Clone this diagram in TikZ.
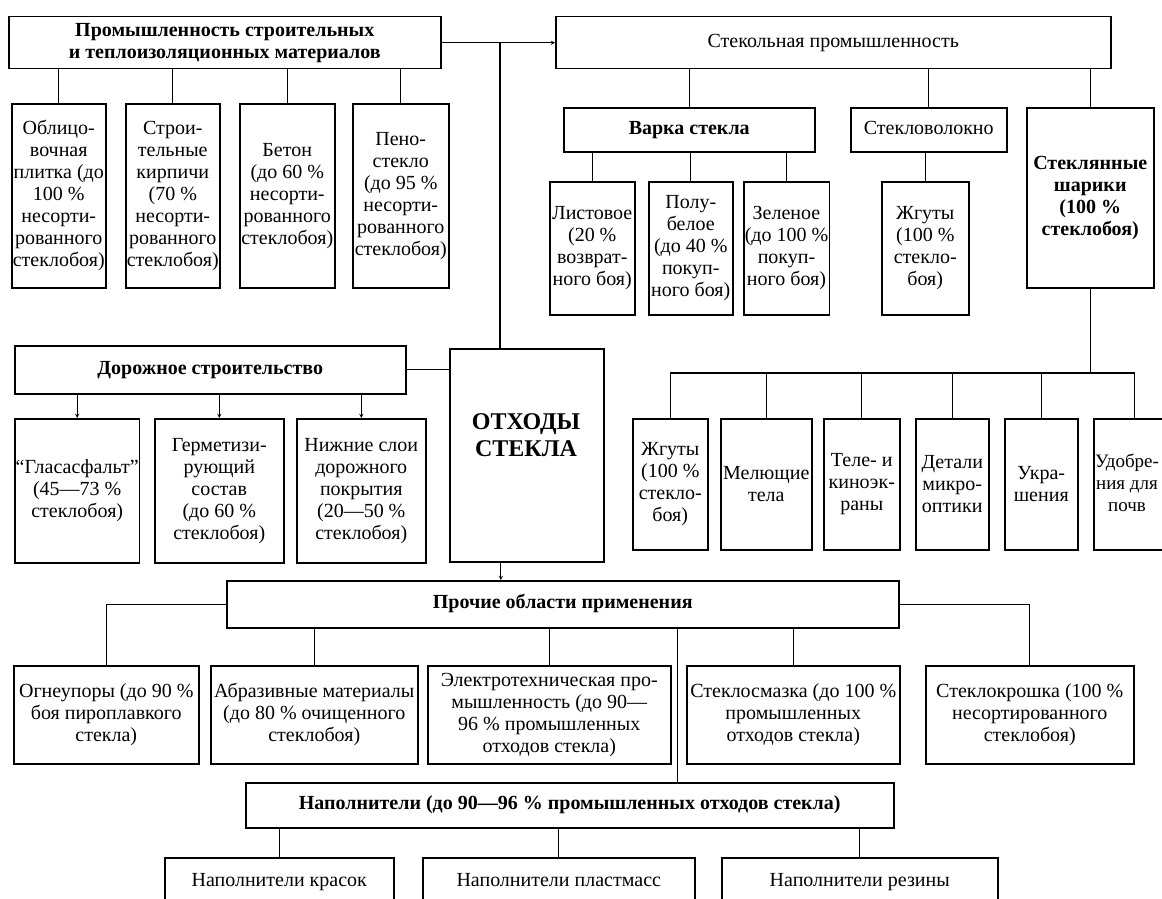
\documentclass[tikz,border=0pt]{standalone}
\usepackage{fontspec}
\setmainfont{Liberation Serif}
\usepackage{tikz}
\usetikzlibrary{arrows}
\newcommand{\boxfont}{\fontsize{20}{22}\selectfont}
\tikzstyle{box} = [rectangle, draw=black, line width=1.5pt, anchor=north west, align=center, inner sep=1pt, font=\boxfont]
\tikzstyle{head} = [box, font=\boxfont\bfseries]
\tikzstyle{link} = [line width=1.3pt]
\tikzstyle{arrow} = [line width=0.9pt,->,>=stealth]

\begin{document}
\begin{tikzpicture}[x=1pt, y=-1pt]
\useasboundingbox (0,0) rectangle (1162,899);
\fill[white] (0,0) rectangle (1162,899);
\clip (0,0) rectangle (1162,899);

% Building and insulation materials
\node (stroi) [head, minimum width=432, minimum height=52] at (8,16) {Промышленность строительных\\и теплоизоляционных материалов};
\node (oblic) [box, minimum width=94, minimum height=184] at (11,103) {Облицо-\\вочная\\плитка (до\\100~\%\\несорти-\\рованного\\стеклобоя)};
\node (kirp) [box, minimum width=94, minimum height=184] at (125,103) {Строи-\\тельные\\кирпичи\\(70~\%\\несорти-\\рованного\\стеклобоя)};
\node (beton) [box, minimum width=95, minimum height=184] at (239,103) {Бетон\\(до 60~\%\\несорти-\\рованного\\стеклобоя)};
\node (peno) [box, minimum width=96, minimum height=184] at (352,103) {Пено-\\стекло\\(до 95~\%\\несорти-\\рованного\\стеклобоя)};
\foreach \n in {oblic,kirp,beton,peno}
  \draw[link] (\n.north) -- (\n.north |- stroi.south);

% Glass industry
\node (steklo) [box, minimum width=555, minimum height=52] at (555,16) {\strut Стекольная промышленность};
\draw[arrow] (stroi.east) -- (steklo.west);
\node (varka) [head, minimum width=251, minimum height=44] at (563,107) {\strut Варка стекла};
\node (volok) [box, minimum width=156, minimum height=44] at (850,107) {\strut Стекловолокно};
\node (shariki) [head, minimum width=127, minimum height=180] at (1026,107) {Стеклянные\\шарики\\(100~\%\\стеклобоя)};
\foreach \n in {varka,volok,shariki}
  \draw[link] (\n.north) -- (\n.north |- steklo.south);

\node (list) [box, minimum width=85, minimum height=133] at (549,181) {Листовое\\(20~\%\\возврат-\\ного боя)};
\node (polu) [box, minimum width=84, minimum height=133] at (648,181) {Полу-\\белое\\(до 40~\%\\покуп-\\ного боя)};
\node (zel) [box, minimum width=85, minimum height=133] at (743,181) {Зеленое\\(до 100~\%\\покуп-\\ного боя)};
\foreach \n in {list,polu,zel}
  \draw[link] (\n.north) -- (\n.north |- varka.south);
\node (zhgut) [box, minimum width=87, minimum height=133] at (881,181) {Жгуты\\(100~\%\\стекло-\\боя)};
\draw[link] (zhgut.north) -- (zhgut.north |- volok.south);

% Glass waste
\node (otxody) [box, minimum width=154, minimum height=213] at (449,348) {};
\node (otxodytxt) [font=\fontsize{24}{27}\selectfont\bfseries, align=center] at (526,435) {ОТХОДЫ\\СТЕКЛА};
\coordinate (junc) at (500,42);
\draw[link] (junc) -- (junc |- otxody.north);

% Road construction
\node (dor) [head, minimum width=391, minimum height=48] at (14,345) {\strut Дорожное строительство};
\draw[link] (dor.east) -- (otxody.west |- dor.east);
\node (glas) [box, minimum width=124, minimum height=144] at (14,418) {“Гласасфальт”\\(45—73~\%\\стеклобоя)};
\node (germ) [box, minimum width=129, minimum height=144] at (154,418) {Герметизи-\\рующий\\состав\\(до 60~\%\\стеклобоя)};
\node (niz) [box, minimum width=129, minimum height=144] at (296,418) {Нижние слои\\дорожного\\покрытия\\(20—50~\%\\стеклобоя)};
\foreach \n in {glas,germ,niz}
  \draw[arrow] (\n.north |- dor.south) -- (\n.north);

% Glass beads
\coordinate (sharbus) at (1090,373);
\draw[link] (shariki.south) -- (shariki.south |- sharbus);
\node (zhgut2) [box, minimum width=75, minimum height=131] at (632,418) {Жгуты\\(100~\%\\стекло-\\боя)};
\node (mel) [box, minimum width=91, minimum height=131] at (720,418) {Мелющие\\тела};
\node (tele) [box, minimum width=76, minimum height=131] at (823,418) {Теле- и\\киноэк-\\раны};
\node (det) [box, minimum width=73, minimum height=131] at (915,418) {Детали\\микро-\\оптики};
\node (ukr) [box, minimum width=73, minimum height=131] at (1004,418) {Укра-\\шения};
\node (udob) [box, minimum width=82, minimum height=131] at (1093,418) {};
\node (udobtxt) [font=\fontsize{19}{22}\selectfont, align=center, inner sep=0pt] at (1127,483) {Удобре-\\ния для\\почв};
\foreach \n in {zhgut2,mel,tele,det,ukr,udob}
  \draw[link] (\n.north) -- (\n.north |- sharbus);
\draw[link] (zhgut2.north |- sharbus) -- (udob.north |- sharbus);

% Other uses
\node (proch) [head, minimum width=672, minimum height=47] at (226,580) {\strut Прочие области применения};
\draw[arrow] ([xshift=-26]otxody.south) -- ([xshift=-26]otxody.south |- proch.north);
\node (ogne) [box, minimum width=185, minimum height=98] at (13,665) {Огнеупоры (до 90~\%\\боя пироплавкого\\стекла)};
\node (abraz) [box, minimum width=207, minimum height=98] at (210,665) {Абразивные материалы\\(до 80~\% очищенного\\стеклобоя)};
\node (elek) [box, minimum width=243, minimum height=98] at (427,665) {Электротехническая про-\\мышленность (до 90—\\96~\% промышленных\\отходов стекла)};
\node (smaz) [box, minimum width=213, minimum height=98] at (686,665) {Стеклосмазка (до 100~\%\\промышленных\\отходов стекла)};
\node (kroshka) [box, minimum width=208, minimum height=98] at (925,665) {Стеклокрошка (100~\%\\несортированного\\стеклобоя)};
\draw[link] (proch.west) -| (ogne.north);
\draw[link] (proch.east) -| (kroshka.north);
\foreach \n in {abraz,elek,smaz}
  \draw[link] (\n.north) -- (\n.north |- proch.south);

% Fillers
\node (napol) [head, minimum width=648, minimum height=45] at (245,782) {\strut Наполнители (до 90—96~\% промышленных отходов стекла)};
\draw[link] ([xshift=115]proch.south) -- ([xshift=115]proch.south |- napol.north);
\node (kras) [box, minimum width=229, minimum height=48] at (164,857) {\strut Наполнители красок};
\node (plast) [box, minimum width=272, minimum height=48] at (422,857) {\strut Наполнители пластмасс};
\node (rez) [box, minimum width=276, minimum height=48] at (721,857) {\strut Наполнители резины};
\foreach \n in {kras,plast,rez}
  \draw[link] (\n.north) -- (\n.north |- napol.south);
\end{tikzpicture}
\end{document}
